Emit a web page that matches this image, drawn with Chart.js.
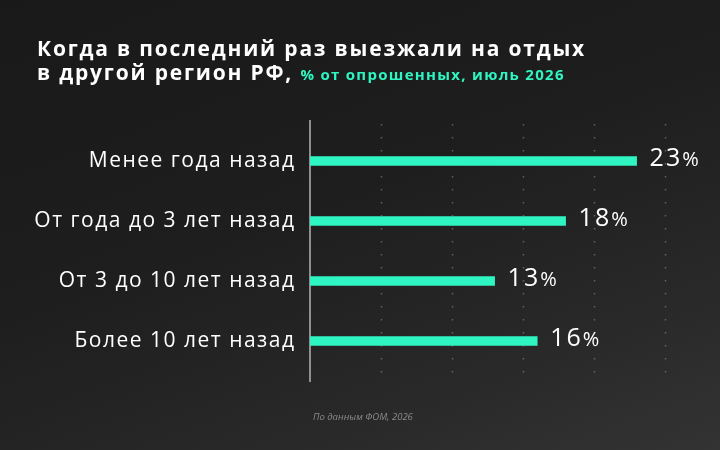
<!DOCTYPE html>
<html>
<head>
<meta charset="utf-8">
<script src="https://cdn.jsdelivr.net/npm/chart.js@4"></script>
<style>
  html, body { margin: 0; padding: 0; }
  body {
    width: 720px; height: 450px; overflow: hidden; position: relative;
    background: linear-gradient(160deg, #191919 0%, #1e1e1e 45%, #282828 75%, #333333 100%);
    font-family: "Open Sans", sans-serif;
  }
  #title {
    position: absolute; left: 37px; top: 37px;
    color: #fff; font-weight: 700; font-size: 21px; line-height: 23.5px;
    letter-spacing: 1.8px; white-space: nowrap;
  }
  #title .sub { color: #2ff5c3; font-size: 15px; letter-spacing: 1.3px; }
  #note {
    position: absolute; left: 313px; top: 410px;
    color: #8a8a8a; font-style: italic; font-size: 9.5px;
  }
  #wrap { position: absolute; left: 0; top: 0; width: 720px; height: 450px; }
</style>
</head>
<body>
<div id="wrap"><canvas id="chart"></canvas></div>
<div id="title">Когда в последний раз выезжали на отдых<br>в другой регион РФ, <span class="sub">% от опрошенных, июль 2026</span></div>
<div id="note">По данным ФОМ, 2026</div>
<script>
const categories = ["Менее года назад", "От года до 3 лет назад", "От 3 до 10 лет назад", "Более 10 лет назад"];
const values = [23, 18, 13, 16];
const gridTicks = [5, 10, 15, 20, 25];

const decor = {
    id: "decor",
    beforeDraw(chart) {
        // wide tracking for the category labels
        chart.ctx.letterSpacing = "1.5px";
    },
    beforeDatasetsDraw(chart) {
        const ctx = chart.ctx;
        ctx.letterSpacing = "0px";
        const area = chart.chartArea;
        const x = chart.scales.x;
        const top = area.top - 11, bottom = area.bottom + 11;
        ctx.save();
        // dotted grid
        ctx.strokeStyle = "rgba(150,150,150,0.55)";
        ctx.lineWidth = 1.5;
        ctx.setLineDash([1.5, 11.5]);
        gridTicks.forEach(v => {
            const px = Math.round(x.getPixelForValue(v)) + 0.5;
            ctx.beginPath();
            ctx.moveTo(px, top + 4);
            ctx.lineTo(px, bottom);
            ctx.stroke();
        });
        // axis line
        ctx.setLineDash([]);
        ctx.strokeStyle = "#b5b5b5";
        ctx.lineWidth = 1.5;
        const ax = x.getPixelForValue(0);
        ctx.beginPath();
        ctx.moveTo(ax, top);
        ctx.lineTo(ax, bottom);
        ctx.stroke();
        ctx.restore();
    },
    afterDatasetsDraw(chart) {
        const ctx = chart.ctx;
        const meta = chart.getDatasetMeta(0);
        ctx.save();
        ctx.fillStyle = "#ffffff";
        ctx.textBaseline = "alphabetic";
        ctx.textAlign = "left";
        meta.data.forEach((bar, i) => {
            const num = String(values[i]);
            const bx = bar.x + 13;
            const by = bar.y + 4.7;
            ctx.letterSpacing = "2px";
            ctx.font = "400 25px 'Open Sans'";
            ctx.fillText(num, bx, by);
            const w = ctx.measureText(num).width;
            ctx.letterSpacing = "0px";
            ctx.font = "400 20px 'Open Sans'";
            ctx.fillText("%", bx + w, by);
        });
        ctx.restore();
    }
};

new Chart(document.getElementById("chart"), {
    type: "bar",
    data: {
        labels: categories,
        datasets: [{
            data: values,
            backgroundColor: "#2ff5c3",
            barThickness: 9,
            borderSkipped: false
        }]
    },
    options: {
        indexAxis: "y",
        responsive: true,
        maintainAspectRatio: false,
        animation: false,
        layout: { padding: { top: 131, bottom: 79, right: 55, left: 0 } },
        plugins: { legend: { display: false }, tooltip: { enabled: false } },
        scales: {
            x: {
                display: false,
                min: 0,
                max: 25
            },
            y: {
                afterFit(scale) { scale.width = 310; },
                grid: { display: false, drawTicks: false },
                border: { display: false },
                ticks: {
                    color: "#ffffff",
                    padding: 14.5,
                    font: { family: "Open Sans", size: 21 }
                }
            }
        }
    },
    plugins: [decor]
});
</script>
</body>
</html>
